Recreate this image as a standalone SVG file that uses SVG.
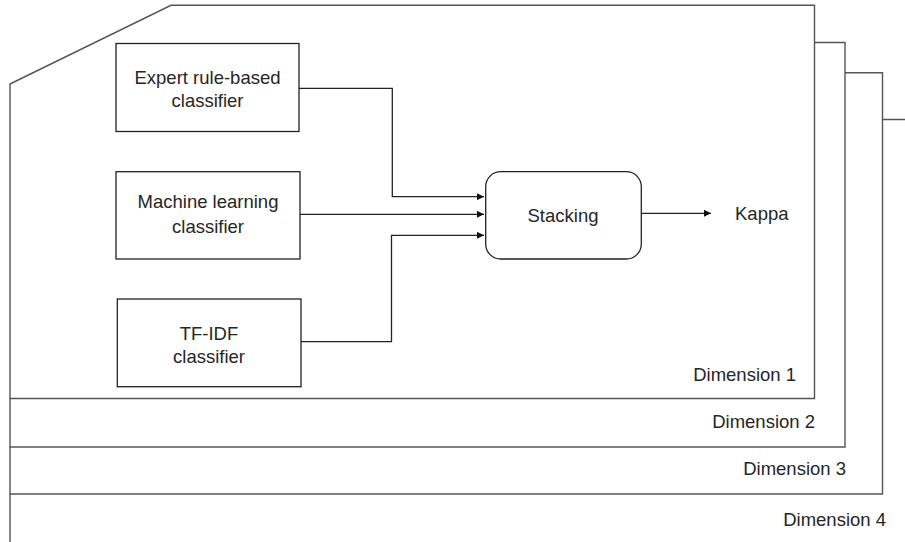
<svg xmlns="http://www.w3.org/2000/svg" width="905" height="542" viewBox="0 0 905 542">
<style>
.frame{fill:none;stroke:#555;stroke-width:1.4}
.box{fill:#fff;stroke:#222;stroke-width:1.3}
.t{font-family:"Liberation Sans",Arial,sans-serif;font-size:18.5px;fill:#262626}
.c{text-anchor:middle}
.e{text-anchor:end}
.conn{fill:none;stroke:#222;stroke-width:1.3}
</style>
<defs>
<marker id="arr" viewBox="0 0 10 10" refX="10" refY="5" markerWidth="7" markerHeight="7" markerUnits="userSpaceOnUse" orient="auto">
<path d="M0,0 L10,5 L0,10 Z" fill="#111"/>
</marker>
</defs>
<rect width="905" height="542" fill="#fff"/>
<g id="dimension4">
<path class="frame" d="M882.5,119.5 H906 M10,494 V542"/>
<text class="t e" x="886" y="526">Dimension 4</text>
</g>
<g id="dimension3">
<path class="frame" d="M845,72.7 H882.5 V494 H10 V447"/>
<text class="t e" x="846" y="475">Dimension 3</text>
</g>
<g id="dimension2">
<path class="frame" d="M814.5,42.5 H845 V447 H10 V398.5"/>
<text class="t e" x="815" y="428">Dimension 2</text>
</g>
<g id="dimension1">
<path class="frame" d="M10,84 L171,5.3 H814.5 V398.5 H10 Z"/>
<text class="t e" x="796" y="381">Dimension 1</text>
</g>
<g id="connectors">
<path class="conn" d="M299,88.3 H392.3 V196.7 H484" marker-end="url(#arr)"/>
<path class="conn" d="M300,214.3 H484" marker-end="url(#arr)"/>
<path class="conn" d="M301,341.7 H391.5 V235.3 H484" marker-end="url(#arr)"/>
<path class="conn" d="M641.3,213.3 H711" marker-end="url(#arr)"/>
</g>
<g id="expert">
<rect class="box" x="116" y="43.5" width="183" height="88"/>
<text class="t c" x="207.5" y="83.5">Expert rule-based</text>
<text class="t c" x="207.5" y="107">classifier</text>
</g>
<g id="ml">
<rect class="box" x="116" y="171.7" width="184" height="87.3"/>
<text class="t c" x="208" y="208">Machine learning</text>
<text class="t c" x="208" y="233">classifier</text>
</g>
<g id="tfidf">
<rect class="box" x="117.3" y="299" width="183.7" height="87.7"/>
<text class="t c" x="209" y="339.5">TF-IDF</text>
<text class="t c" x="209" y="362.5">classifier</text>
</g>
<g id="stacking">
<rect class="box" x="485.7" y="171.7" width="155.6" height="87.3" rx="15" ry="15"/>
<text class="t c" x="563" y="222">Stacking</text>
</g>
<g id="kappa">
<text class="t" x="735" y="220">Kappa</text>
</g>
</svg>
